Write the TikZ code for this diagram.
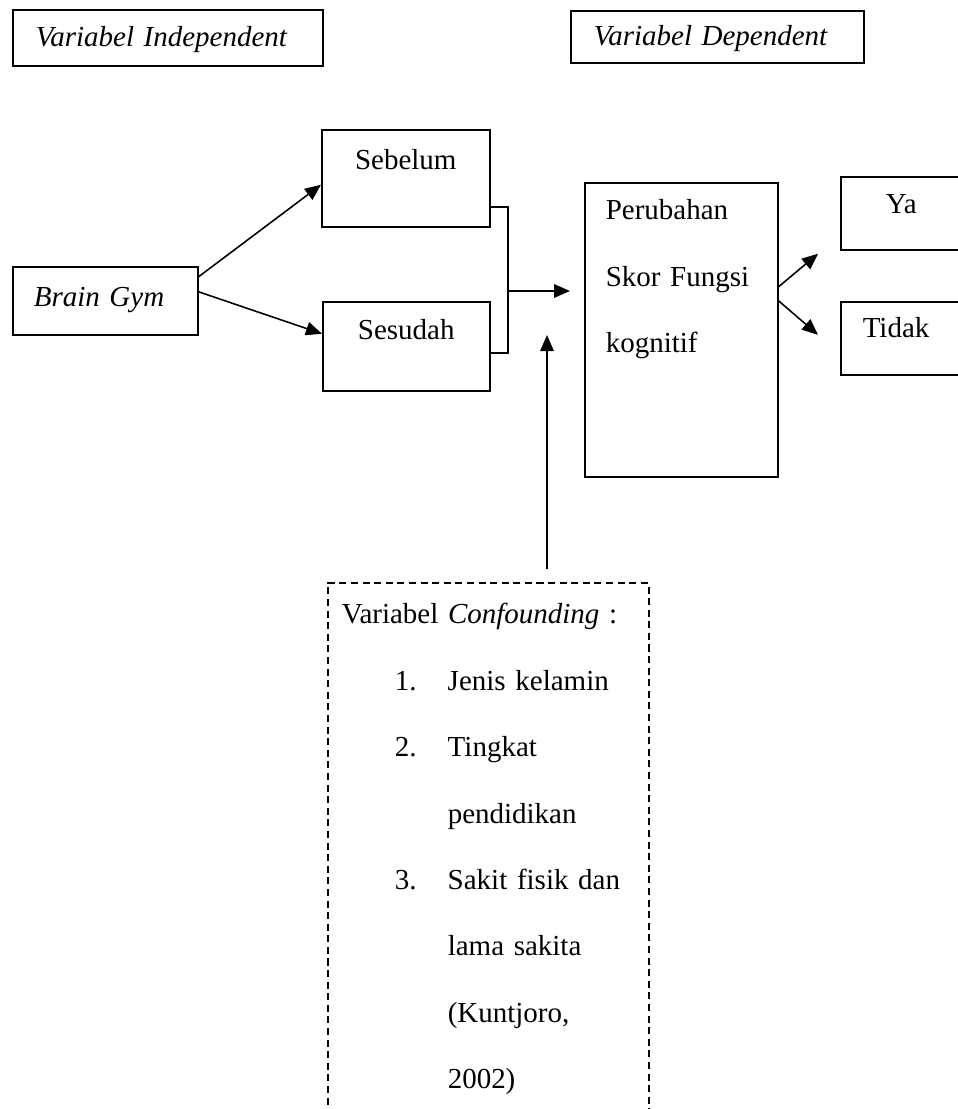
\documentclass[tikz,border=0pt]{standalone}
\usepackage{fontspec}
\setmainfont{Liberation Serif}
\usetikzlibrary{arrows.meta}

\begin{document}
\begin{tikzpicture}[x=0.02cm,y=-0.02cm,>={Triangle[length=0.32cm,width=0.27cm]},line width=0.9pt,
  box/.style={draw,anchor=north west,inner sep=0pt,align=left},
  cbox/.style={box,align=center},
  every node/.style={font=\fontsize{16.5}{37.8}\selectfont}]
\useasboundingbox (0,0) rectangle (957,1109);
\node[box,text width=5.28cm,inner xsep=0.46cm,text height=0.74cm,text depth=0.38cm] (indep) at (12,9) {\textit{Variabel Independent}};
\node[box,text width=4.94cm,inner xsep=0.46cm,text height=0.7cm,text depth=0.34cm] (dep) at (570,10) {\textit{Variabel Dependent}};
\node[box,text width=2.86cm,inner xsep=0.42cm,text height=0.8cm,text depth=0.56cm] (brain) at (12,266) {\textit{Brain Gym}};
\node[cbox,text width=3.36cm,text height=0.8cm,text depth=1.14cm] (sebelum) at (321,129) {Sebelum};
\node[cbox,text width=3.34cm,text height=0.76cm,text depth=1.02cm] (sesudah) at (322,301) {Sesudah};
\node[box,text width=3.02cm,inner xsep=0.42cm,text height=0.74cm,text depth=5.14cm] (perubahan) at (584,182) {Perubahan\\Skor Fungsi\\kognitif};
\node[box,text width=1cm,inner xsep=0.9cm,text height=0.74cm,text depth=0.72cm] (ya) at (840,176) {Ya};
\node[box,text width=1.92cm,inner xsep=0.44cm,text height=0.72cm,text depth=0.74cm] (tidak) at (840,301) {Tidak};
\node[box,dash pattern=on 4pt off 2.6pt,text width=5.86cm,inner xsep=0.28cm,text height=0.82cm,text depth=10.14cm] (conf) at (327,582)
  {Variabel \textit{Confounding} :\\
   \hspace*{1.06cm}\makebox[1.06cm][l]{1.}Jenis kelamin\\
   \hspace*{1.06cm}\makebox[1.06cm][l]{2.}Tingkat\\
   \hspace*{2.12cm}pendidikan\\
   \hspace*{1.06cm}\makebox[1.06cm][l]{3.}Sakit fisik dan\\
   \hspace*{2.12cm}lama sakita\\
   \hspace*{2.12cm}(Kuntjoro,\\
   \hspace*{2.12cm}2002)};
\coordinate (merge) at (508,291);
\coordinate (upend) at (547,335);
\draw[->] ([yshift=0.48cm]brain.east) -- ([yshift=-0.13cm]sebelum.west);
\draw[->] ([yshift=0.18cm]brain.east) -- ([yshift=0.25cm]sesudah.west);
\draw ([yshift=-0.57cm]sebelum.east) -| (merge) |- ([yshift=-0.13cm]sesudah.east);
\draw[->,shorten >=0.28cm] (merge) -- (merge -| perubahan.west);
\draw[->,shorten <=0.26cm] (upend |- conf.north) -- (upend);
\draw[->] ([yshift=0.86cm]perubahan.east) -- ([xshift=-0.44cm,yshift=-0.81cm]ya.west);
\draw[->] ([yshift=0.58cm]perubahan.east) -- ([xshift=-0.44cm,yshift=0.07cm]tidak.west);
\end{tikzpicture}
\end{document}
